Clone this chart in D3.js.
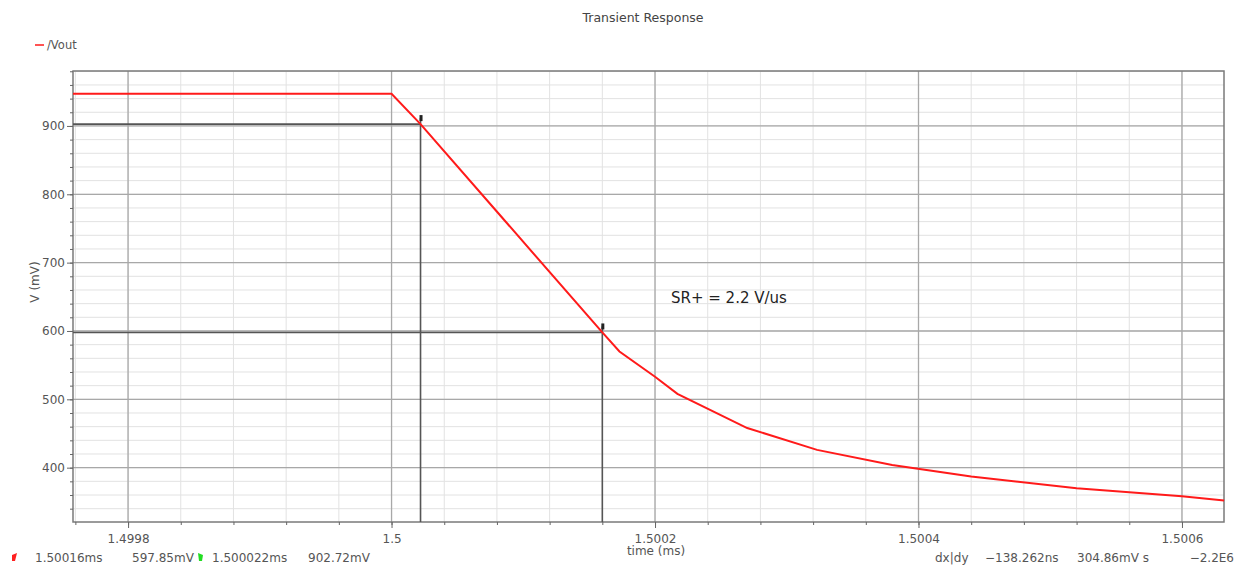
<!DOCTYPE html>
<html>
<head>
<meta charset="utf-8">
<script src="https://cdn.jsdelivr.net/npm/d3@7"></script>
<style>
  body { margin: 0; background: #fff; }
  svg { display: block; font-family: "DejaVu Sans", sans-serif; }
</style>
</head>
<body>
<svg id="chart" width="1238" height="565"></svg>
<script>
// Vout samples (time in ms, voltage in mV)
const timeMs = [1.4997582, 1.5, 1.500022, 1.50016, 1.500173, 1.5002, 1.500217,
                1.50027, 1.500323, 1.50038, 1.50044, 1.50052, 1.5006, 1.500632];
const voutMv = [947, 947, 902.72, 597.85, 570, 533, 508,
                458, 426, 404, 387, 370, 358, 352];

// cursors (A = red, B = green)
const cursorT = [1.500022, 1.50016];
const cursorV = [902.72, 597.85];

const xMajor = [1.4998, 1.5, 1.5002, 1.5004, 1.5006];
const xLabels = ["1.4998", "1.5", "1.5002", "1.5004", "1.5006"];
const yMajor = [400, 500, 600, 700, 800, 900];

const footLeft = ["1.50016ms", "597.85mV", "1.500022ms", "902.72mV"];
const footRight = ["dx|dy", "\u2212138.262ns", "304.86mV s", "\u22122.2E6"];

const margin = {left: 73, top: 71, right: 14, bottom: 43};
const W = 1238, H = 565;
const svg = d3.select("#chart");

const x = d3.scaleLinear().domain([1.4997582, 1.5006319]).range([margin.left, W - margin.right]);
const y = d3.scaleLinear().domain([980.4, 320.5]).range([margin.top, H - margin.bottom]);

const xMinor = d3.range(-6, 23).map(i => +(1.4998 + i * 0.00004).toFixed(6))
    .filter(v => v > x.domain()[0] && v < x.domain()[1]);
const yMinor = d3.range(16, 50).map(i => i * 20).filter(v => v > y.domain()[1] && v < y.domain()[0]);

const x0 = margin.left, x1 = W - margin.right, y0 = margin.top, y1 = H - margin.bottom;

// minor grid
svg.append("g").selectAll("line").data(xMinor).join("line")
    .attr("x1", d => x(d)).attr("x2", d => x(d)).attr("y1", y0).attr("y2", y1)
    .attr("stroke", "#e2e2e2").attr("stroke-width", 1);
svg.append("g").selectAll("line").data(yMinor).join("line")
    .attr("x1", x0).attr("x2", x1).attr("y1", d => y(d)).attr("y2", d => y(d))
    .attr("stroke", "#e2e2e2").attr("stroke-width", 1);

// major grid
svg.append("g").selectAll("line").data(xMajor).join("line")
    .attr("x1", d => x(d)).attr("x2", d => x(d)).attr("y1", y0).attr("y2", y1)
    .attr("stroke", "#a8a8a8").attr("stroke-width", 1.3);
svg.append("g").selectAll("line").data(yMajor).join("line")
    .attr("x1", x0).attr("x2", x1).attr("y1", d => y(d)).attr("y2", d => y(d))
    .attr("stroke", "#a8a8a8").attr("stroke-width", 1.3);

// frame
svg.append("rect").attr("x", x0).attr("y", y0).attr("width", x1 - x0).attr("height", y1 - y0)
    .attr("fill", "none").attr("stroke", "#7a7a7a").attr("stroke-width", 1.5);

// axes
const axisStyle = g => {
    g.select(".domain").remove();
    g.selectAll("line").attr("stroke", "#666");
    g.selectAll("text").attr("fill", "#555").style("font-size", "12px")
        .style("font-family", "DejaVu Sans, sans-serif");
};
svg.append("g").attr("transform", `translate(${x0},0)`)
    .call(d3.axisLeft(y).tickValues(yMinor).tickSize(3).tickFormat(""))
    .call(axisStyle);
svg.append("g").attr("transform", `translate(${x0},0)`)
    .call(d3.axisLeft(y).tickValues(yMajor).tickSize(6).tickPadding(2).tickFormat(d3.format("d")))
    .call(axisStyle);
svg.append("g").attr("transform", `translate(0,${y1})`)
    .call(d3.axisBottom(x).tickValues(xMinor).tickSize(3).tickFormat(""))
    .call(axisStyle);
svg.append("g").attr("transform", `translate(0,${y1})`)
    .call(d3.axisBottom(x).tickValues(xMajor).tickSize(6).tickPadding(6)
        .tickFormat((d, i) => xLabels[i]))
    .call(axisStyle);

// cursors
cursorT.forEach((t, i) => {
    const cx = x(t), cy = y(cursorV[i]);
    svg.append("line").attr("x1", x0).attr("x2", cx).attr("y1", cy).attr("y2", cy)
        .attr("stroke", "#555").attr("stroke-width", 1.6);
    svg.append("line").attr("x1", cx).attr("x2", cx).attr("y1", cy - 6).attr("y2", y1)
        .attr("stroke", "#555").attr("stroke-width", 1.6);
    svg.append("rect").attr("x", cx - 1).attr("y", cy - 9).attr("width", 3).attr("height", 6)
        .attr("fill", "#222");
});

// waveform
svg.append("path").datum(timeMs.map((t, i) => [t, voutMv[i]]))
    .attr("d", d3.line().x(d => x(d[0])).y(d => y(d[1])))
    .attr("fill", "none").attr("stroke", "#ff1a1a").attr("stroke-width", 2);

// title, legend, labels
svg.append("text").attr("x", 643).attr("y", 22).attr("text-anchor", "middle")
    .attr("fill", "#444").style("font-size", "12.5px").text("Transient Response");
svg.append("line").attr("x1", 35).attr("x2", 44).attr("y1", 45).attr("y2", 45)
    .attr("stroke", "#ff1a1a").attr("stroke-width", 1.5);
svg.append("text").attr("x", 47).attr("y", 49).attr("fill", "#555")
    .style("font-size", "11.5px").text("/Vout");
svg.append("text").attr("transform", "translate(39,282) rotate(-90)").attr("text-anchor", "middle")
    .attr("fill", "#555").style("font-size", "12px").text("V (mV)");
svg.append("text").attr("x", 656).attr("y", 555).attr("text-anchor", "middle")
    .attr("fill", "#555").style("font-size", "12px").text("time (ms)");
svg.append("text").attr("x", 671).attr("y", 303).attr("fill", "#222")
    .style("font-size", "15px").text("SR+ = 2.2 V/us");

// footer: cursor readouts
const foot = svg.append("g").attr("fill", "#555").style("font-size", "12px");
svg.append("path").attr("d", "M12,555 L17,553 L15,561 L12,561 Z").attr("fill", "#ff2020");
svg.append("path").attr("d", "M198,553 L203,555 L202,561 L199,561 Z").attr("fill", "#22dd22");
const footLeftX = [35, 132, 212, 308];
foot.selectAll("text.l").data(footLeft).join("text").attr("class", "l")
    .attr("x", (d, i) => footLeftX[i]).attr("y", 562).text(d => d);
const footRightX = [935, 985, 1077, 1234];
foot.selectAll("text.r").data(footRight).join("text").attr("class", "r")
    .attr("x", (d, i) => footRightX[i]).attr("y", 562)
    .attr("text-anchor", (d, i) => i === 3 ? "end" : "start").text(d => d);
</script>
</body>
</html>
